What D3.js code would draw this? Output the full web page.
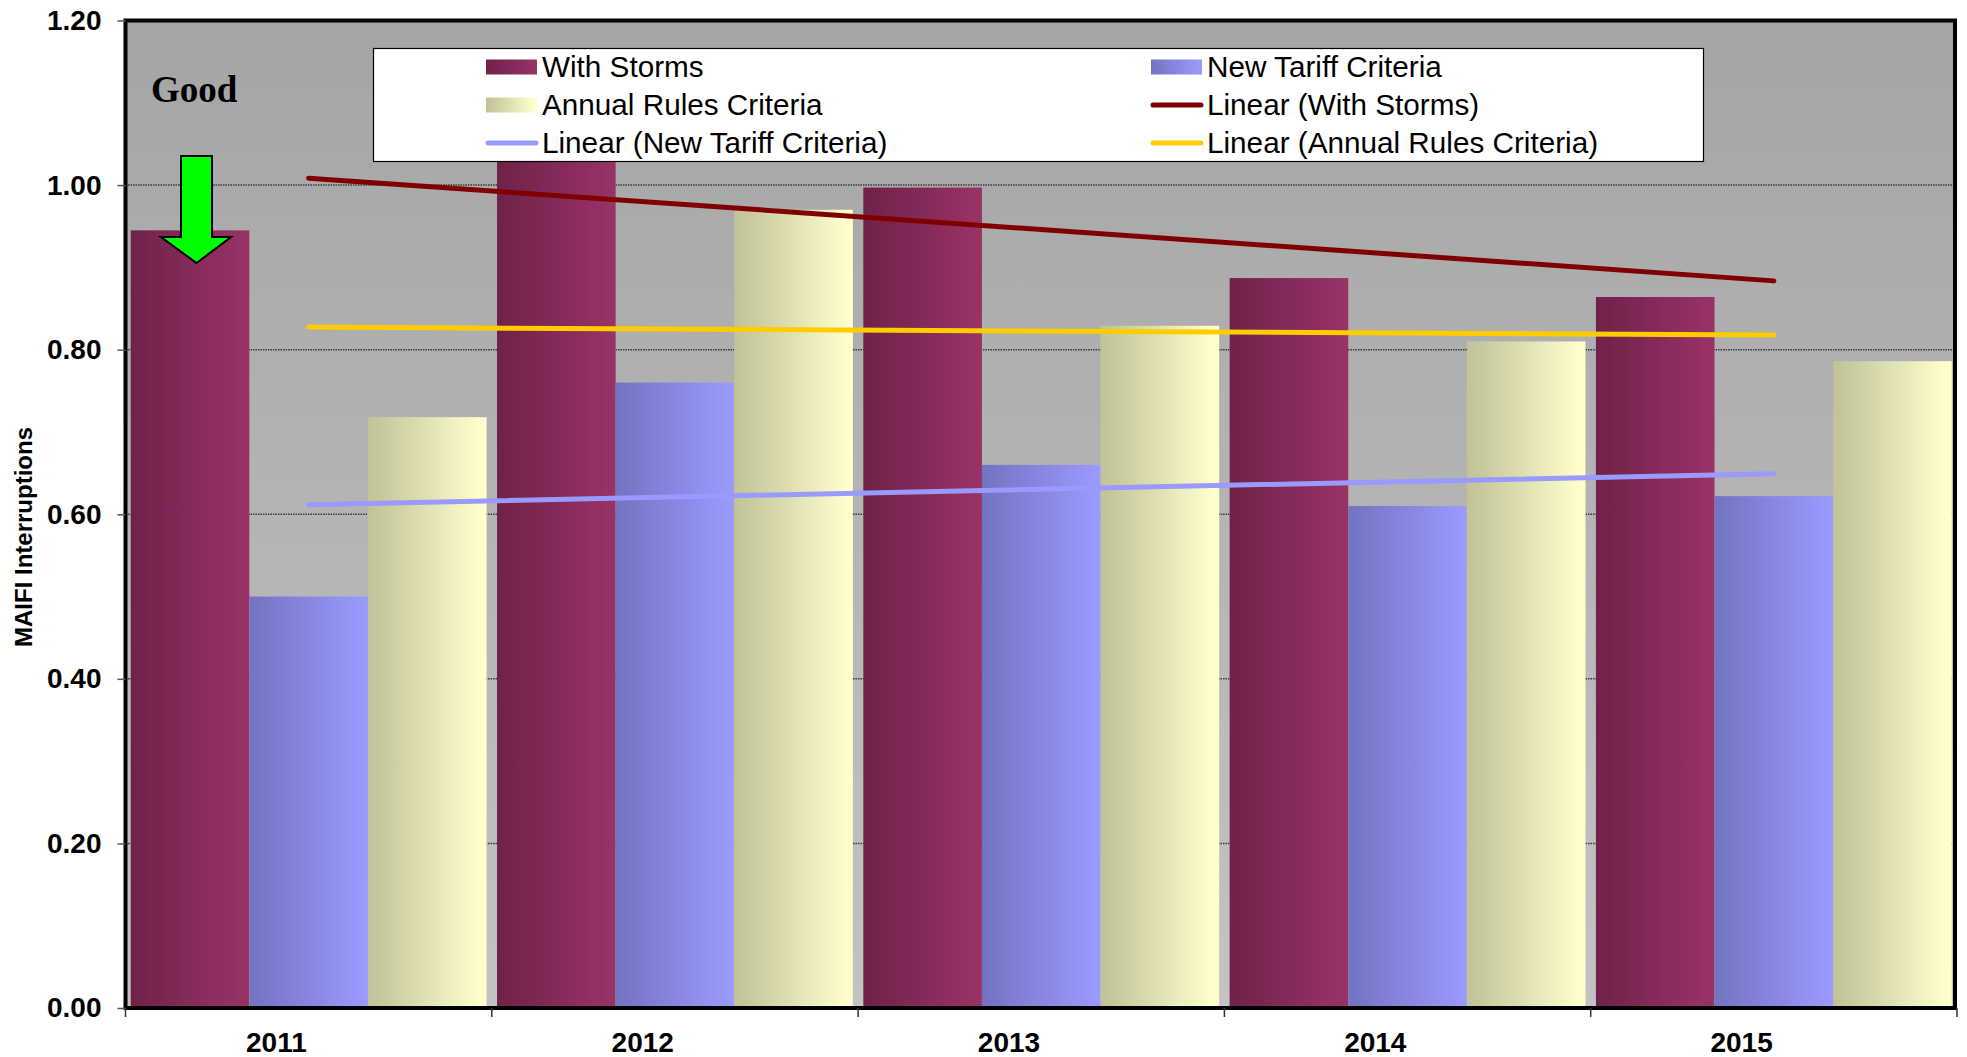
<!DOCTYPE html>
<html>
<head>
<meta charset="utf-8">
<script src="https://cdn.jsdelivr.net/npm/d3@7"></script>
<style>
  html, body { margin: 0; padding: 0; background: #ffffff; }
  svg { display: block; }
</style>
</head>
<body>
<svg id="chart" width="1967" height="1057"></svg>
<script>
// MAIFI interruptions by year, three reporting bases
const years = ["2011", "2012", "2013", "2014", "2015"];
const seriesNames = ["With Storms", "New Tariff Criteria", "Annual Rules Criteria"];
const withStorms = [0.945, 1.037, 0.997, 0.887, 0.864];
const newTariff = [0.500, 0.760, 0.660, 0.610, 0.622];
const annualRules = [0.718, 0.970, 0.829, 0.810, 0.786];
const yTicks = [0, 0.2, 0.4, 0.6, 0.8, 1.0, 1.2];
const legendLabels = [
  "With Storms", "New Tariff Criteria",
  "Annual Rules Criteria", "Linear (With Storms)",
  "Linear (New Tariff Criteria)", "Linear (Annual Rules Criteria)"
];

const seriesValues = [withStorms, newTariff, annualRules];

const svg = d3.select("#chart");
const defs = svg.append("defs");

// plot frame
const plot = { left: 125.5, right: 1957, top: 20.5, bottom: 1008 };

// horizontal gradients for bar fills
const barFills = [
  { id: "gStorms", stops: [[0, "#70214a"], [1, "#993366"]] },
  { id: "gTariff", stops: [[0, "#7373c2"], [1, "#9b9bff"]] },
  { id: "gAnnual", stops: [[0, "#c2c397"], [0.1, "#c6c79c"], [0.92, "#fdfdcb"], [1, "#ffffcc"]] }
];
barFills.forEach(g => {
  const lg = defs.append("linearGradient").attr("id", g.id)
    .attr("x1", 0).attr("y1", 0).attr("x2", 1).attr("y2", 0);
  g.stops.forEach(s => lg.append("stop").attr("offset", s[0]).attr("stop-color", s[1]));
});
const bg = defs.append("linearGradient").attr("id", "gBack")
  .attr("x1", 0).attr("y1", 0).attr("x2", 0).attr("y2", 1);
bg.append("stop").attr("offset", 0).attr("stop-color", "#a5a5a5");
bg.append("stop").attr("offset", 1).attr("stop-color", "#c3c3c3");

const trendColors = ["#800000", "#9999ff", "#ffcc00"];

// scales
const x = d3.scaleBand().domain(years).range([plot.left, plot.right]).padding(0);
const xs = d3.scaleBand().domain(seriesNames).range([0, x.bandwidth()])
  .paddingInner(0).paddingOuter(0.044);
const y = d3.scaleLinear().domain([0, 1.2]).range([plot.bottom, plot.top]);

// plot background
svg.append("rect")
  .attr("x", plot.left).attr("y", plot.top)
  .attr("width", plot.right - plot.left).attr("height", plot.bottom - plot.top)
  .attr("fill", "url(#gBack)");

// gridlines
svg.append("g")
  .selectAll("line")
  .data(yTicks.filter(t => t > 0 && t < 1.2))
  .join("line")
  .attr("x1", plot.left).attr("x2", plot.right)
  .attr("y1", d => y(d)).attr("y2", d => y(d))
  .attr("stroke", "#3a3a3a").attr("stroke-width", 1.5)
  .attr("stroke-dasharray", "1.5,1");

// bars
const barGroups = svg.append("g")
  .selectAll("g")
  .data(seriesNames)
  .join("g")
  .attr("fill", (d, i) => `url(#${barFills[i].id})`);

barGroups.selectAll("rect")
  .data((name, i) => years.map((yr, j) => ({ yr, name, v: seriesValues[i][j] })))
  .join("rect")
  .attr("x", d => x(d.yr) + xs(d.name))
  .attr("width", xs.bandwidth())
  .attr("y", d => y(d.v))
  .attr("height", d => y(0) - y(d.v));

// least-squares linear trend for each series
function linearFit(vals) {
  const xsIdx = vals.map((v, i) => i + 1);
  const mx = d3.mean(xsIdx), my = d3.mean(vals);
  const slope = d3.sum(xsIdx, (xi, i) => (xi - mx) * (vals[i] - my)) /
                d3.sum(xsIdx, xi => (xi - mx) * (xi - mx));
  return xi => my + slope * (xi - mx);
}
const trendG = svg.append("g");
seriesValues.forEach((vals, i) => {
  const f = linearFit(vals);
  const pts = years.map((yr, j) => [x(yr) + x.bandwidth() / 2, y(f(j + 1))]);
  trendG.append("path")
    .attr("d", d3.line()([pts[0], pts[pts.length - 1]]))
    .attr("fill", "none")
    .attr("stroke", trendColors[i])
    .attr("stroke-width", 5)
    .attr("stroke-linecap", "round");
});

// plot frame
svg.append("rect")
  .attr("x", plot.left).attr("y", plot.top)
  .attr("width", plot.right - plot.left - 2).attr("height", plot.bottom - plot.top)
  .attr("fill", "none").attr("stroke", "#000").attr("stroke-width", 4);

// y axis
const yAxis = d3.axisLeft(y).tickValues(yTicks).tickFormat(d3.format(".2f"))
  .tickSize(8).tickPadding(16);
const yAxisG = svg.append("g").attr("transform", `translate(${plot.left},0)`).call(yAxis);
yAxisG.select(".domain").remove();
yAxisG.selectAll(".tick line").attr("stroke", "#555").attr("stroke-width", 1.5);
yAxisG.selectAll(".tick text")
  .attr("font-family", "Arial, 'Liberation Sans', sans-serif")
  .attr("font-weight", "bold").attr("font-size", 28).attr("fill", "#000");

// x axis ticks at category boundaries
const bounds = years.map(yr => x(yr)).concat([plot.right]);
svg.append("g").selectAll("line").data(bounds).join("line")
  .attr("x1", d => d).attr("x2", d => d)
  .attr("y1", plot.bottom).attr("y2", plot.bottom + 9)
  .attr("stroke", "#333").attr("stroke-width", 1.5);

// x axis labels
svg.append("g").selectAll("text").data(years).join("text")
  .attr("x", d => x(d) + x.bandwidth() * 0.412)
  .attr("y", 1052)
  .attr("text-anchor", "middle")
  .attr("font-family", "Arial, 'Liberation Sans', sans-serif")
  .attr("font-weight", "bold").attr("font-size", 28)
  .text(d => d);

// y axis title
svg.append("text")
  .attr("transform", "translate(32,537) rotate(-90)")
  .attr("text-anchor", "middle")
  .attr("font-family", "Arial, 'Liberation Sans', sans-serif")
  .attr("font-weight", "bold").attr("font-size", 24)
  .text("MAIFI Interruptions");

// "Good" note with downward arrow
svg.append("text")
  .attr("x", 151).attr("y", 102)
  .attr("font-family", "'Times New Roman', 'Liberation Serif', serif")
  .attr("font-weight", "bold").attr("font-size", 37)
  .text("Good");
svg.append("path")
  .attr("d", d3.line()([[181, 156], [212, 156], [212, 237], [231, 237], [196.5, 263], [161, 237], [181, 237]]) + "Z")
  .attr("fill", "#00ff00").attr("stroke", "#000").attr("stroke-width", 2)
  .attr("stroke-linejoin", "miter");

// legend
const legend = svg.append("g");
legend.append("rect")
  .attr("x", 373.5).attr("y", 48.5).attr("width", 1330).attr("height", 113)
  .attr("fill", "#fff").attr("stroke", "#000").attr("stroke-width", 1.2);

const legendItems = [
  { label: legendLabels[0], kind: "bar", fill: "url(#gStorms)" },
  { label: legendLabels[1], kind: "bar", fill: "url(#gTariff)" },
  { label: legendLabels[2], kind: "bar", fill: "url(#gAnnual)" },
  { label: legendLabels[3], kind: "line", color: trendColors[0] },
  { label: legendLabels[4], kind: "line", color: trendColors[1] },
  { label: legendLabels[5], kind: "line", color: trendColors[2] }
];
const colX = [486, 1151];
const rowY = [67, 105, 143];
legendItems.forEach((item, i) => {
  const cx = colX[i % 2], cy = rowY[Math.floor(i / 2)];
  if (item.kind === "bar") {
    legend.append("rect").attr("x", cx).attr("y", cy - 7.5)
      .attr("width", 51).attr("height", 15).attr("fill", item.fill);
  } else {
    legend.append("line").attr("x1", cx + 2).attr("x2", cx + 50)
      .attr("y1", cy).attr("y2", cy)
      .attr("stroke", item.color).attr("stroke-width", 5).attr("stroke-linecap", "round");
  }
  legend.append("text")
    .attr("x", cx + 56).attr("y", cy + 10)
    .attr("font-family", "Arial, 'Liberation Sans', sans-serif")
    .attr("font-size", 29.7)
    .text(item.label);
});
</script>
</body>
</html>
